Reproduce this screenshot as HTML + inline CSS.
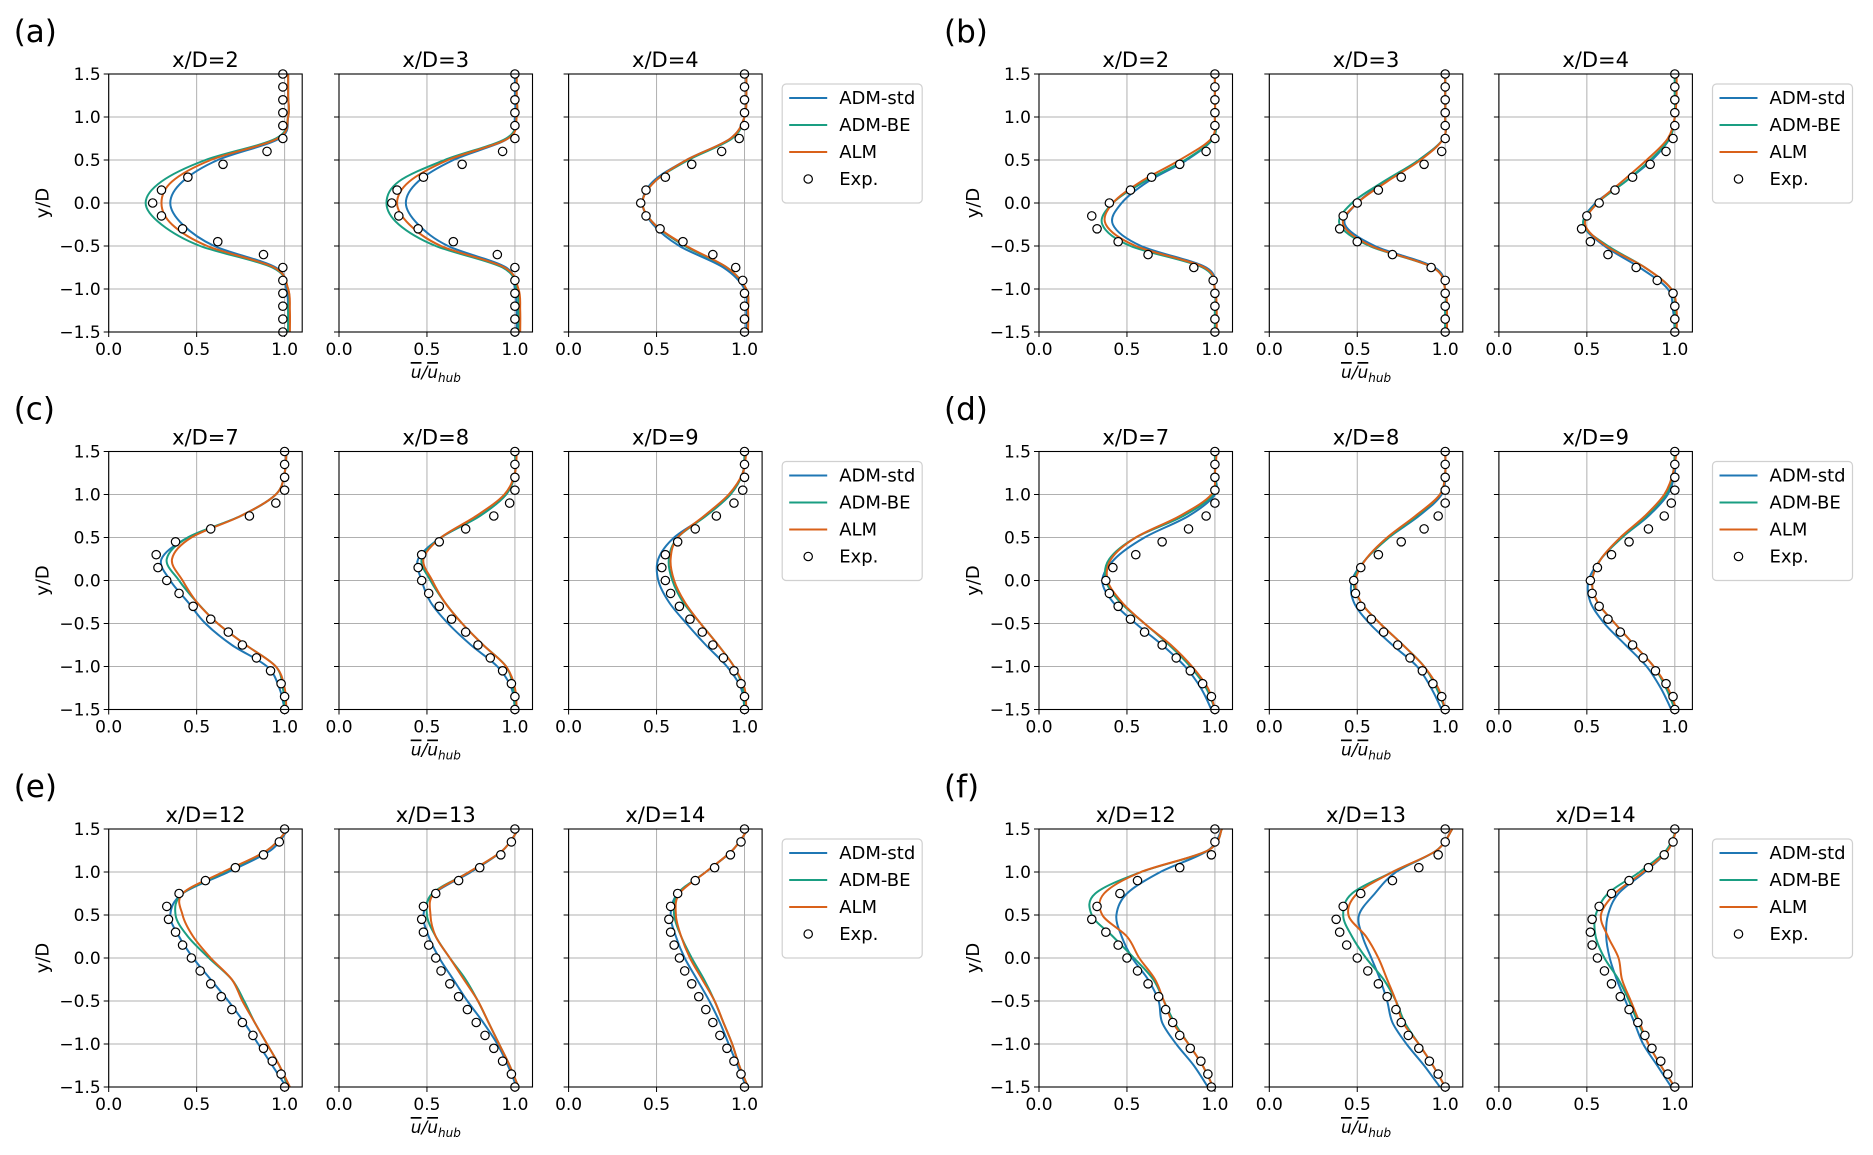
<!DOCTYPE html>
<html><head><meta charset="utf-8"><style>
html,body{margin:0;padding:0;background:#fff;}
svg{display:block;font-family:"DejaVu Sans","Liberation Sans",sans-serif;}
</style></head><body>
<svg id="fig" width="1873" height="1155" viewBox="0 0 1873 1155" xmlns="http://www.w3.org/2000/svg"></svg>
<script>
// ---- data ----
const groupLabels = ["(a)","(b)","(c)","(d)","(e)","(f)"];
const stations = [[2,3,4],[2,3,4],[7,8,9],[7,8,9],[12,13,14],[12,13,14]];
const lineY = [-1.5,-1.25,-1.0,-0.75,-0.5,-0.25,0,0.25,0.5,0.75,1.0,1.25,1.5];
const expY = [-1.5,-1.35,-1.2,-1.05,-0.9,-0.75,-0.6,-0.45,-0.3,-0.15,0,0.15,0.3,0.45,0.6,0.75,0.9,1.05,1.2,1.35,1.5];
const xTicks = [0.0,0.5,1.0];
const yTicks = [-1.5,-1.0,-0.5,0.0,0.5,1.0,1.5];
const seriesNames = ["ADM-std","ADM-BE","ALM","Exp."];

const admStd = [
 [[1.02,1.02,1.01,0.95,0.6,0.42,0.35,0.42,0.62,0.97,1.02,1.02,1.02],[1.01,1.01,1.0,0.95,0.62,0.45,0.38,0.45,0.65,0.96,1.0,1.0,1.0],[1.01,1.01,1.0,0.88,0.63,0.48,0.42,0.48,0.67,0.92,1.0,1.01,1.01]],
 [[1,1,1,0.95,0.58,0.42,0.47,0.62,0.84,0.99,1,1,1],[1,1,1,0.94,0.6,0.43,0.5,0.66,0.85,0.99,1,1,1],[1,0.99,0.96,0.8,0.6,0.48,0.55,0.72,0.87,0.97,1,1,1]],
 [[1,0.97,0.9,0.7,0.55,0.45,0.35,0.3,0.45,0.75,0.95,1,1.01],[1,0.98,0.9,0.75,0.62,0.52,0.47,0.45,0.58,0.8,0.95,1,1],[1,0.98,0.9,0.78,0.67,0.57,0.51,0.51,0.6,0.78,0.92,0.99,1]],
 [[0.98,0.92,0.83,0.7,0.55,0.42,0.36,0.43,0.6,0.85,1,1,1],[0.98,0.92,0.84,0.7,0.57,0.48,0.47,0.55,0.68,0.85,0.98,1,1],[0.98,0.92,0.84,0.72,0.6,0.52,0.51,0.58,0.7,0.85,0.96,1,1]],
 [[1.01,0.93,0.85,0.77,0.68,0.58,0.48,0.4,0.35,0.42,0.68,0.92,1.02],[1.01,0.96,0.9,0.82,0.73,0.65,0.57,0.51,0.48,0.54,0.75,0.93,1.02],[1.01,0.96,0.91,0.86,0.8,0.73,0.66,0.61,0.58,0.62,0.78,0.93,1.02]],
 [[0.96,0.88,0.78,0.7,0.68,0.62,0.53,0.47,0.44,0.5,0.69,0.96,1.04],[0.97,0.88,0.78,0.7,0.67,0.63,0.58,0.53,0.51,0.6,0.72,0.95,1.04],[0.98,0.9,0.82,0.77,0.72,0.67,0.63,0.61,0.62,0.68,0.83,0.96,1.01]]
];
const admBE = [
 [[1.02,1.02,1.02,0.93,0.52,0.3,0.21,0.3,0.55,0.95,1.02,1.02,1.02],[1.02,1.02,1.01,0.93,0.55,0.34,0.27,0.34,0.6,0.95,1.01,1.01,1.01],[1.02,1.02,1.01,0.9,0.66,0.49,0.42,0.49,0.68,0.93,1.0,1.01,1.01]],
 [[1,1,1,0.93,0.52,0.36,0.42,0.6,0.83,0.99,1,1,1],[1,1,1,0.93,0.57,0.4,0.47,0.65,0.85,0.99,1,1,1],[1,1,0.98,0.83,0.62,0.48,0.56,0.72,0.86,0.97,1,1,1]],
 [[1,0.99,0.95,0.78,0.62,0.5,0.4,0.33,0.45,0.75,0.95,1,1.01],[1,0.99,0.95,0.82,0.7,0.6,0.52,0.47,0.58,0.8,0.95,1,1],[1,0.99,0.94,0.85,0.75,0.65,0.59,0.57,0.62,0.78,0.92,0.99,1]],
 [[1,0.95,0.86,0.74,0.6,0.46,0.38,0.4,0.55,0.82,0.99,1,1],[1,0.95,0.88,0.76,0.63,0.52,0.48,0.55,0.68,0.84,0.97,1,1],[1,0.95,0.88,0.77,0.66,0.56,0.53,0.58,0.7,0.84,0.95,0.99,1]],
 [[1.02,0.97,0.9,0.83,0.77,0.7,0.57,0.45,0.38,0.42,0.66,0.9,1.02],[1.02,0.97,0.91,0.85,0.79,0.72,0.63,0.55,0.5,0.53,0.74,0.93,1.02],[1.02,0.97,0.93,0.88,0.83,0.77,0.7,0.64,0.6,0.62,0.78,0.93,1.02]],
 [[0.99,0.93,0.85,0.77,0.71,0.65,0.54,0.42,0.3,0.32,0.58,0.96,1.04],[1,0.93,0.85,0.77,0.72,0.65,0.55,0.47,0.42,0.47,0.7,0.95,1.04],[1,0.92,0.85,0.79,0.74,0.68,0.6,0.55,0.55,0.62,0.8,0.95,1.01]]
];
const alm = [
 [[1.03,1.03,1.02,0.94,0.56,0.36,0.3,0.36,0.58,0.96,1.02,1.02,1.02],[1.03,1.03,1.02,0.94,0.58,0.4,0.33,0.4,0.62,0.96,1.01,1.01,1.01],[1.02,1.02,1.01,0.9,0.67,0.49,0.42,0.49,0.67,0.92,1.0,1.01,1.01]],
 [[1.01,1.01,1.0,0.94,0.55,0.38,0.42,0.58,0.8,0.98,1,1,1],[1.01,1.01,1,0.93,0.58,0.42,0.5,0.67,0.86,0.99,1,1,1],[1.01,1.01,0.98,0.83,0.61,0.49,0.56,0.7,0.84,0.96,1,1.01,1.01]],
 [[1.01,1,0.95,0.78,0.62,0.5,0.42,0.36,0.47,0.75,0.95,1,1.01],[1.01,1,0.95,0.82,0.7,0.6,0.53,0.48,0.58,0.78,0.94,1,1.01],[1.01,1,0.94,0.85,0.75,0.66,0.6,0.58,0.62,0.77,0.91,0.99,1.01]],
 [[1,0.96,0.87,0.75,0.6,0.47,0.39,0.41,0.55,0.8,0.98,1,1.01],[1,0.96,0.88,0.76,0.63,0.52,0.49,0.55,0.67,0.83,0.97,1,1],[1.01,0.96,0.88,0.77,0.66,0.56,0.53,0.58,0.69,0.83,0.94,0.99,1.01]],
 [[1.03,0.97,0.9,0.83,0.76,0.7,0.58,0.48,0.42,0.42,0.65,0.9,1.02],[1.02,0.97,0.91,0.85,0.79,0.71,0.63,0.55,0.52,0.54,0.74,0.93,1.02],[1.02,0.97,0.93,0.88,0.83,0.76,0.69,0.64,0.61,0.63,0.78,0.93,1.02]],
 [[0.99,0.93,0.85,0.76,0.71,0.66,0.57,0.5,0.36,0.37,0.58,0.96,1.04],[1,0.93,0.85,0.76,0.72,0.67,0.62,0.55,0.45,0.5,0.7,0.95,1.04],[1,0.92,0.85,0.8,0.75,0.7,0.68,0.62,0.58,0.66,0.82,0.96,1.01]]
];
const expData = [
 [[0.99,0.99,0.99,0.99,0.99,0.99,0.88,0.62,0.42,0.3,0.25,0.3,0.45,0.65,0.9,0.99,0.99,0.99,0.99,0.99,0.99],[1,1,1,1,1,1,0.9,0.65,0.45,0.34,0.3,0.33,0.48,0.7,0.93,1,1,1,1,1,1],[1,1,1,1,0.99,0.95,0.82,0.65,0.52,0.44,0.41,0.44,0.55,0.7,0.87,0.97,1,1,1,1,1]],
 [[1,1,1,1,0.99,0.88,0.62,0.45,0.33,0.3,0.4,0.52,0.64,0.8,0.95,1,1,1,1,1,1],[1,1,1,1,1,0.92,0.7,0.5,0.4,0.42,0.5,0.62,0.75,0.88,0.98,1,1,1,1,1,1],[1,1,1,0.99,0.9,0.78,0.62,0.52,0.47,0.5,0.57,0.66,0.76,0.86,0.95,0.99,1,1,1,1,1]],
 [[1,1,0.98,0.92,0.84,0.76,0.68,0.58,0.48,0.4,0.33,0.28,0.27,0.38,0.58,0.8,0.95,1,1,1,1],[1,1,0.98,0.93,0.86,0.79,0.72,0.64,0.57,0.51,0.47,0.45,0.47,0.57,0.72,0.88,0.97,1,1,1,1],[1,1,0.98,0.94,0.88,0.82,0.76,0.69,0.63,0.58,0.55,0.53,0.55,0.62,0.72,0.84,0.94,0.99,1,1,1]],
 [[1,0.98,0.93,0.86,0.78,0.7,0.6,0.52,0.45,0.4,0.38,0.42,0.55,0.7,0.85,0.95,1,1,1,1,1],[1,0.98,0.93,0.87,0.8,0.73,0.65,0.58,0.52,0.49,0.48,0.52,0.62,0.75,0.88,0.96,1,1,1,1,1],[1,0.99,0.95,0.89,0.82,0.76,0.69,0.62,0.57,0.53,0.52,0.56,0.64,0.74,0.85,0.94,0.98,1,1,1,1]],
 [[1,0.98,0.93,0.88,0.82,0.76,0.7,0.64,0.58,0.52,0.47,0.42,0.38,0.34,0.33,0.4,0.55,0.72,0.88,0.97,1],[1,0.98,0.93,0.88,0.83,0.78,0.73,0.68,0.63,0.58,0.55,0.51,0.48,0.47,0.48,0.55,0.68,0.8,0.92,0.98,1],[1,0.98,0.94,0.9,0.86,0.82,0.78,0.74,0.7,0.66,0.63,0.6,0.58,0.57,0.58,0.62,0.72,0.83,0.92,0.98,1]],
 [[0.98,0.96,0.92,0.86,0.8,0.76,0.72,0.68,0.62,0.56,0.5,0.45,0.38,0.3,0.33,0.46,0.56,0.8,0.98,1,1],[1,0.96,0.91,0.85,0.79,0.75,0.72,0.67,0.62,0.56,0.5,0.44,0.4,0.38,0.42,0.52,0.7,0.85,0.96,1,1],[1,0.96,0.92,0.87,0.83,0.79,0.74,0.69,0.64,0.6,0.56,0.53,0.52,0.53,0.57,0.64,0.74,0.85,0.94,0.99,1]]
];

// ---- layout ----
const NS = "http://www.w3.org/2000/svg";
const svg = document.getElementById("fig");
const colX0 = [108.7, 1039];
const panelOff = [0, 230.3, 459.9];
const rowTop = [74, 451.5, 829];
const PW = 193.5, PH = 258;
const XMAX = 1.1, YMIN = -1.5, YMAX = 1.5;
const colors = ["#1f77b4", "#1a9e82", "#d9611a"];

function mk(tag, attrs, parent) {
  const e = document.createElementNS(NS, tag);
  for (const k in attrs) e.setAttribute(k, attrs[k]);
  (parent || svg).appendChild(e);
  return e;
}
function path(pts) {
  let d = "M" + pts[0][0].toFixed(2) + "," + pts[0][1].toFixed(2);
  for (let i = 0; i < pts.length - 1; i++) {
    const p0 = pts[i - 1] || pts[i], p1 = pts[i], p2 = pts[i + 1], p3 = pts[i + 2] || p2;
    const c1 = [p1[0] + (p2[0] - p0[0]) / 6, p1[1] + (p2[1] - p0[1]) / 6];
    const c2 = [p2[0] - (p3[0] - p1[0]) / 6, p2[1] - (p3[1] - p1[1]) / 6];
    d += "C" + c1[0].toFixed(2) + "," + c1[1].toFixed(2) + " " + c2[0].toFixed(2) + "," + c2[1].toFixed(2) + " " + p2[0].toFixed(2) + "," + p2[1].toFixed(2);
  }
  return d;
}

for (let g = 0; g < 6; g++) {
  const col = g % 2, row = Math.floor(g / 2);
  const top = rowTop[row];
  const grp = mk("g", {});
  
  
  const lab = mk("text", {x: colX0[col] - 95, y: top - 32, "font-size": 31, fill: "#000"}, grp);
  
  
  lab.textContent = groupLabels[g];

  for (let p = 0; p < 3; p++) {
    const left = colX0[col] + panelOff[p];
    const sx = u => left + u / XMAX * PW;
    const sy = y => top + (YMAX - y) / (YMAX - YMIN) * PH;
    const ax = mk("g", {}, grp);
    
    
    const cid = "clip" + g + "_" + p;
    const cp = mk("clipPath", {id: cid}, ax);
    mk("rect", {x: left, y: top, width: PW, height: PH}, cp);
    xTicks.forEach(t => {
      const gl = mk("line", {x1: sx(t), x2: sx(t), y1: top, y2: top + PH, stroke: "#b0b0b0", "stroke-width": 1}, ax);
      
      
      mk("line", {x1: sx(t), x2: sx(t), y1: top + PH, y2: top + PH + 5, stroke: "#000", "stroke-width": 1}, ax);
      const tl = mk("text", {x: sx(t), y: top + PH + 23, "font-size": 17, "text-anchor": "middle", fill: "#000"}, ax);
      
      
      tl.textContent = t.toFixed(1);
    });
    yTicks.forEach(t => {
      const gl = mk("line", {x1: left, x2: left + PW, y1: sy(t), y2: sy(t), stroke: "#b0b0b0", "stroke-width": 1}, ax);
      
      
      mk("line", {x1: left - 5, x2: left, y1: sy(t), y2: sy(t), stroke: "#000", "stroke-width": 1}, ax);
      if (p === 0) {
        const tl = mk("text", {x: left - 8, y: sy(t) + 6, "font-size": 17, "text-anchor": "end", fill: "#000"}, ax);
        
        
        tl.textContent = (t < 0 ? "\u2212" + Math.abs(t).toFixed(1) : t.toFixed(1));
      }
    });
    [admStd, admBE, alm].forEach((ser, si) => {
      const vals = ser[g][p];
      const pts = vals.map((v, i) => [sx(v), sy(lineY[i])]);
      const ln = mk("path", {d: path(pts), fill: "none", stroke: colors[si], "stroke-width": 2, "clip-path": "url(#" + cid + ")"}, ax);
      
      
    });
    expData[g][p].forEach((v, i) => {
      const c = mk("circle", {cx: sx(v), cy: sy(expY[i]), r: 4.2, fill: "#fff", stroke: "#000", "stroke-width": 1.2}, ax);
      
      
    });
    const fr = mk("rect", {x: left, y: top, width: PW, height: PH, fill: "none", stroke: "#000", "stroke-width": 1.1}, ax);
    
    
    const tt = mk("text", {x: left + PW / 2, y: top - 7, "font-size": 21, "text-anchor": "middle", fill: "#000"}, ax);
    
    
    tt.textContent = "x/D=" + stations[g][p];
    if (p === 0) {
      const yl = mk("text", {x: 0, y: 0, "font-size": 18, "text-anchor": "middle", fill: "#000", transform: "translate(" + (left - 60) + "," + (top + PH / 2) + ") rotate(-90)"}, ax);
      
      
      yl.textContent = "y/D";
    }
    if (p === 1) {
      const xl = mk("text", {x: left + PW / 2, y: top + PH + 46, "font-size": 17, "text-anchor": "middle", fill: "#000", "font-style": "italic"}, ax);
      
      
      xl.innerHTML = '<tspan style="text-decoration:overline">u</tspan>/<tspan style="text-decoration:overline">u</tspan><tspan font-size="12" dy="4">hub</tspan>';
    }
  }
  const lx = colX0[col] + 673.5, ly = top + 10;
  const lg = mk("g", {}, grp);
  
  
  mk("rect", {x: lx, y: ly, width: 140, height: 119, rx: 4, fill: "#fff", stroke: "#d0d0d0", "stroke-width": 1.2}, lg);
  seriesNames.forEach((nm, i) => {
    const ey = ly + 14 + i * 27;
    const en = mk("g", {}, lg);
    
    
    if (i < 3) mk("line", {x1: lx + 7, x2: lx + 45, y1: ey, y2: ey, stroke: colors[i], "stroke-width": 2}, en);
    else mk("circle", {cx: lx + 26, cy: ey, r: 4.2, fill: "#fff", stroke: "#000", "stroke-width": 1.2}, en);
    const t = mk("text", {x: lx + 57, y: ey + 6, "font-size": 18, fill: "#000"}, en);
    t.textContent = nm;
  });
}
</script>
</body></html>
